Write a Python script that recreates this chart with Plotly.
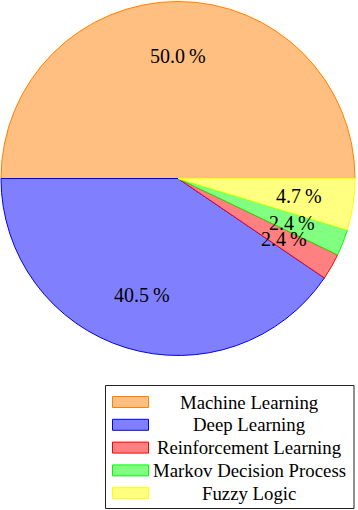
import math
import plotly.graph_objects as go

# ---- data ----
labels = ["Machine Learning", "Deep Learning", "Reinforcement Learning",
          "Markov Decision Process", "Fuzzy Logic"]
percents = [50.0, 40.5, 2.4, 2.4, 4.7]
fill_colors = ["#FFBF80", "#8080FF", "#FF8080", "#80FF80", "#FFFF80"]
edge_colors = ["#FF8000", "#0000FF", "#FF0000", "#00FF00", "#FFFF00"]

W, H = 358, 510
CX, CY, R = 178.0, 178.5, 177.0
LABEL_R = 0.69 * R
FONT = "Liberation Serif"

fig = go.Figure()
fig.add_trace(go.Pie(
    labels=labels, values=percents, sort=False,
    direction="counterclockwise", rotation=-90,
    textinfo="none", showlegend=False,
    marker=dict(colors=fill_colors, line=dict(color=edge_colors, width=1)),
    domain=dict(x=[(CX - R) / W, (CX + R) / W],
                y=[1 - (CY + R) / H, 1 - (CY - R) / H]),
    hovertemplate="%{label}: %{value:.1f} %<extra></extra>",
))

annotations = []
shapes = []
total = sum(percents)
cum = 0
for lab, v in zip(labels, percents):
    mid = (cum + v / 2) / total * 2 * math.pi
    cum += v
    px = CX + LABEL_R * math.cos(mid)
    py = CY - LABEL_R * math.sin(mid)
    annotations.append(dict(
        x=px / W, y=1 - py / H, xref="paper", yref="paper",
        text=f"{v:.1f}\u2009%", showarrow=False,
        font=dict(family=FONT, size=20, color="black"),
        xanchor="center", yanchor="middle"))

# ---- legend box drawn with shapes ----
LX0, LX1, LY0, LY1 = 105.5, 354.0, 385.5, 508.5
shapes.append(dict(type="rect", xref="paper", yref="paper",
                   x0=LX0 / W, x1=LX1 / W, y0=1 - LY1 / H, y1=1 - LY0 / H,
                   line=dict(color="#222222", width=1), fillcolor="white"))
row0, step = 402.0, 22.8
for i, (lab, fc, ec) in enumerate(zip(labels, fill_colors, edge_colors)):
    yc = row0 + i * step
    shapes.append(dict(type="rect", xref="paper", yref="paper",
                       x0=112.5 / W, x1=148.5 / W,
                       y0=1 - (yc + 5.5) / H, y1=1 - (yc - 5.5) / H,
                       line=dict(color=ec, width=1), fillcolor=fc))
    annotations.append(dict(
        x=249 / W, y=1 - yc / H, xref="paper", yref="paper",
        text=lab, showarrow=False,
        font=dict(family=FONT, size=18.8, color="black"),
        xanchor="center", yanchor="middle"))

fig.update_layout(
    width=W, height=H,
    margin=dict(l=0, r=0, t=0, b=0),
    paper_bgcolor="white", plot_bgcolor="white",
    annotations=annotations, shapes=shapes,
)

fig.write_html("out.html",
               config={"displayModeBar": False},
               post_script="document.body.style.margin='0';"
                           "document.body.style.padding='0';")
